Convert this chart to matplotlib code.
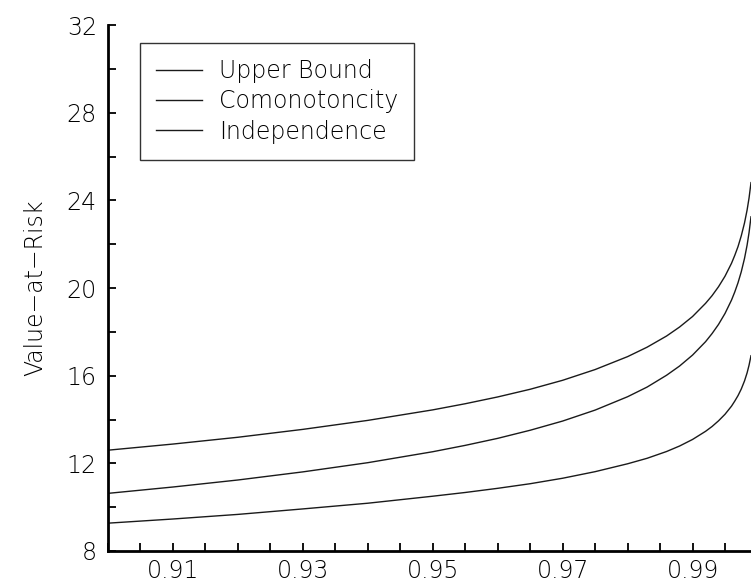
import matplotlib
matplotlib.use("Agg")
import matplotlib.pyplot as plt
from matplotlib import font_manager
from matplotlib.ticker import MultipleLocator, FixedLocator

# thin wide sans if available, otherwise the regular face
_faces = {(f.name, f.weight) for f in font_manager.fontManager.ttflist}
if ("DejaVu Sans", 200) in _faces:
    FAMILY, WEIGHT = ["DejaVu Sans"], 200
else:
    FAMILY, WEIGHT = ["DejaVu Sans"], "normal"
plt.rcParams["font.family"] = FAMILY

# confidence levels and the VaR of the aggregate under three dependence assumptions
alpha = [0.900, 0.910, 0.920, 0.930, 0.940, 0.950, 0.955, 0.960, 0.965,
         0.970, 0.975, 0.980, 0.983, 0.986, 0.988, 0.990, 0.992, 0.993,
         0.994, 0.995, 0.996, 0.9965, 0.997, 0.9975, 0.998, 0.9984,
         0.9987, 0.999]

var_upper = [12.60, 12.88, 13.19, 13.55, 13.96, 14.44, 14.72, 15.03, 15.38,
             15.79, 16.28, 16.87, 17.30, 17.81, 18.22, 18.70, 19.30, 19.65,
             20.06, 20.54, 21.13, 21.49, 21.89, 22.38, 22.97, 23.56,
             24.11, 24.81]

var_comon = [10.63, 10.92, 11.24, 11.61, 12.03, 12.53, 12.82, 13.14, 13.51,
             13.93, 14.43, 15.04, 15.48, 16.02, 16.44, 16.94, 17.55, 17.92,
             18.34, 18.84, 19.45, 19.82, 20.24, 20.74, 21.35, 21.96,
             22.53, 23.25]

var_indep = [9.27, 9.46, 9.67, 9.92, 10.18, 10.50, 10.67, 10.86, 11.07,
             11.32, 11.62, 11.98, 12.23, 12.54, 12.79, 13.09, 13.46, 13.68,
             13.94, 14.24, 14.61, 14.84, 15.09, 15.39, 15.76, 16.13,
             16.48, 16.91]

labels = ["Upper Bound", "Comonotoncity", "Independence"]

fig = plt.figure(figsize=(7.51, 5.83), dpi=100)
ax = fig.add_axes([0.1438, 0.0549, 0.8562, 0.9021])

for ys, lab in zip([var_upper, var_comon, var_indep], labels):
    ax.plot(alpha, ys, color="#1a1a1a", lw=1.0, label=lab)

ax.set_xlim(0.90, 0.999)
ax.set_ylim(8, 32)

ax.xaxis.set_major_locator(FixedLocator([0.91, 0.93, 0.95, 0.97, 0.99]))
ax.xaxis.set_minor_locator(MultipleLocator(0.005))
ax.yaxis.set_major_locator(MultipleLocator(4))
ax.yaxis.set_minor_locator(MultipleLocator(2))
ax.set_xticklabels(["0.91", "0.93", "0.95", "0.97", "0.99"])

for side in ["top", "right"]:
    ax.spines[side].set_visible(False)
for side in ["left", "bottom"]:
    ax.spines[side].set_linewidth(2.0)

ax.tick_params(which="both", direction="in", length=6, width=1.3,
               labelsize=17, colors="black")
ax.tick_params(axis="x", which="both", pad=5.5)
ax.tick_params(axis="y", which="both", pad=8)
for t in ax.get_xticklabels() + ax.get_yticklabels():
    t.set_fontweight(WEIGHT)

ax.set_ylabel("Value\u2212at\u2212Risk", fontsize=17, fontweight=WEIGHT,
              labelpad=14)

leg = ax.legend(loc="upper left", bbox_to_anchor=(0.05, 0.966),
                fontsize=17, frameon=True, fancybox=False,
                handlelength=1.95, handletextpad=0.7, borderpad=0.68,
                labelspacing=0.27, borderaxespad=0)
leg.get_frame().set_edgecolor("black")
leg.get_frame().set_linewidth(1.0)
for t in leg.get_texts():
    t.set_fontweight(WEIGHT)

fig.savefig("out.png", dpi=100)
